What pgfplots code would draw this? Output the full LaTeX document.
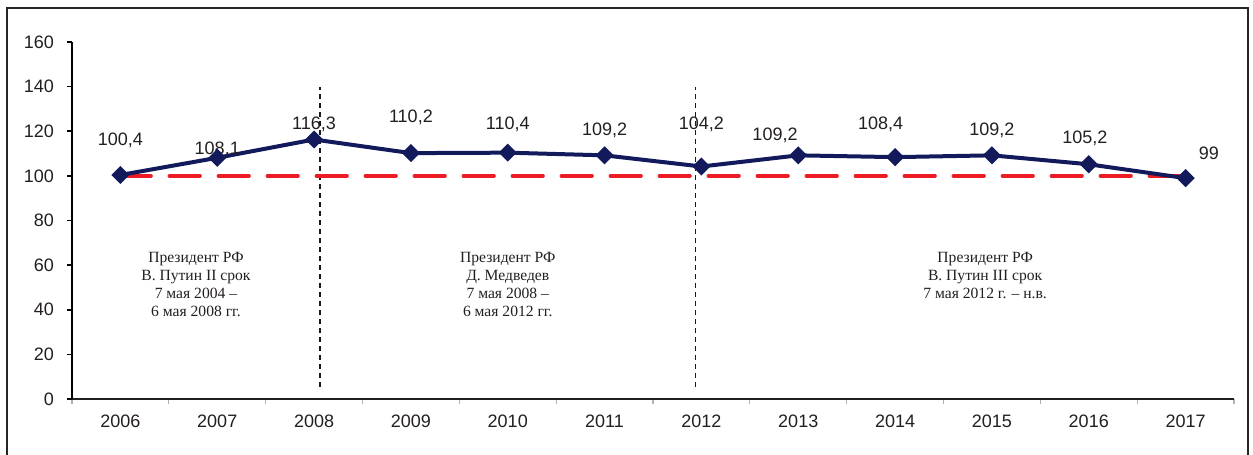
\documentclass[border=0pt]{standalone}
\usepackage{fontspec}
\setmainfont{Liberation Sans}
\newfontfamily\serifru{Liberation Serif}
\usepackage{pgfplots}
\pgfplotsset{compat=1.18}
\definecolor{navyline}{RGB}{18,26,92}
\definecolor{reddash}{RGB}{237,28,36}
\definecolor{txt}{RGB}{35,31,32}
\begin{document}
\begin{tikzpicture}
\begin{axis}[
  scale only axis,
  width=581pt, height=178.5pt,
  at={(0,0)}, anchor=south west,
  xmin=-0.5, xmax=11.5, ymin=0, ymax=160,
  axis x line=bottom, axis y line=left,
  axis line style={-},
  x axis line style={line width=0.6pt, color=txt},
  y axis line style={line width=1pt, color=black},
  xtick={0,...,11},
  xticklabels={2006,2007,2008,2009,2010,2011,2012,2013,2014,2015,2016,2017},
  minor xtick={-0.5,0.5,...,11.5},
  major x tick style={draw=none},
  minor x tick style={color=gray!60, line width=0.6pt},
  minor tick length=2.5pt,
  ytick={0,20,...,160},
  y tick style={line width=0.8pt, color=black},
  major tick length=2.5pt,
  tick align=outside,
  /pgf/number format/assume math mode=true,
  ticklabel style={font=\fontsize{9}{10}\selectfont, text=txt},
  xticklabel style={yshift=-2pt},
  yticklabel style={xshift=-3pt},
  clip=false,
]
% vertical dashed separators
\addplot[black!90, line width=0.75pt, dash pattern=on 2.5pt off 2pt] coordinates {(2.06,5.4) (2.06,140)};
\addplot[black!90, line width=0.75pt, dash pattern=on 2.5pt off 2pt] coordinates {(5.94,5.4) (5.94,140)};
% reference line at 100
\addplot[reddash, line width=1.8pt, line cap=round, dash pattern=on 15.3pt off 9.2pt] coordinates {(0,100) (11,100)};
% data
\addplot[navyline, line width=2pt, mark=square*, mark size=2.2pt, mark options={rotate=45, fill=navyline, solid}] coordinates {
(0,100.4) (1,108.1) (2,116.3) (3,110.2) (4,110.4) (5,109.2) (6,104.2) (7,109.2) (8,108.4) (9,109.2) (10,105.2) (11,99)
};
% data labels
\begin{scope}[every node/.style={font=\fontsize{9}{10}\selectfont, text=txt}]
\node at (axis cs:0,115.7) {100,4};
\node at (axis cs:1,112.1) {108,1};
\node at (axis cs:2,123.3) {116,3};
\node at (axis cs:3,126) {110,2};
\node at (axis cs:4,122.9) {110,4};
\node at (axis cs:5,120.6) {109,2};
\node at (axis cs:6,122.9) {104,2};
\node at (axis cs:6.76,118) {109,2};
\node at (axis cs:7.85,122.9) {108,4};
\node at (axis cs:9,120.6) {109,2};
\node at (axis cs:9.96,116.6) {105,2};
\node at (axis cs:11.24,110.3) {99};
\end{scope}
% annotations
\begin{scope}[every node/.style={font=\serifru\fontsize{7.8}{9}\selectfont, text=txt, align=center, anchor=north}]
\node at (axis cs:0.78,69) {Президент РФ\\В. Путин II срок\\7 мая 2004 –\\6 мая 2008 гг.};
\node at (axis cs:4.0,69) {Президент РФ\\Д. Медведев\\7 мая 2008 –\\6 мая 2012 гг.};
\node at (axis cs:8.93,69) {Президент РФ\\В. Путин III срок\\7 мая 2012 г. – н.в.};
\end{scope}
\end{axis}
\draw[line width=1pt, color=black!85] (-32.5pt,-30pt) -- (-32.5pt,195.5pt) -- (588pt,195.5pt) -- (588pt,-30pt);
\pgfresetboundingbox
\path[use as bounding box] (-36pt,-28pt) rectangle (590.5pt,199.5pt);
\end{tikzpicture}
\end{document}
